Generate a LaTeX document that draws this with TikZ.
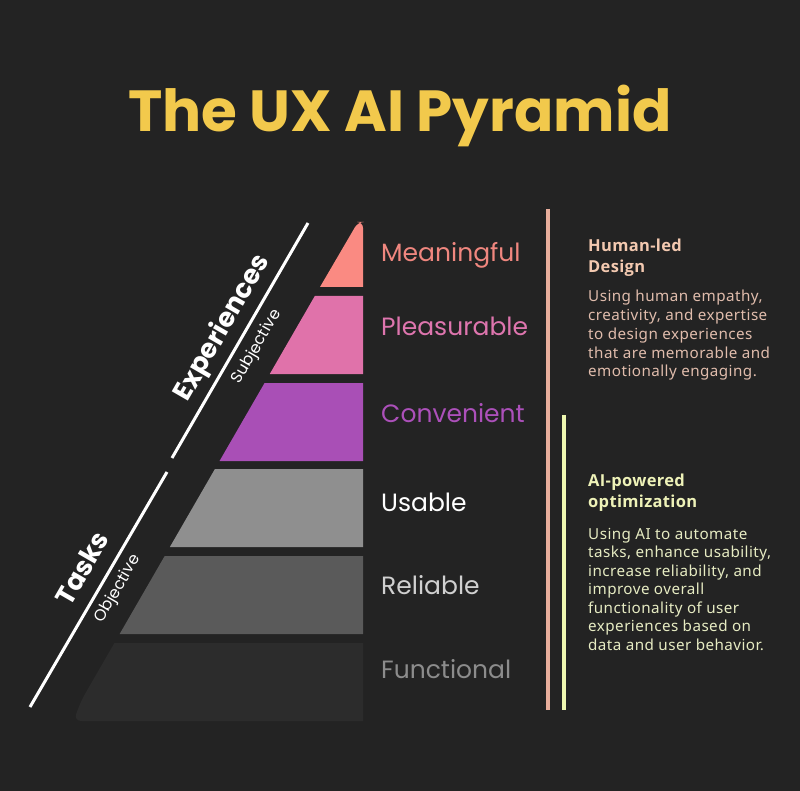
\documentclass[tikz,border=0pt]{standalone}
\usepackage{fontspec}
\setmainfont{Poppins}
\newfontfamily\bodyfont[LetterSpace=3]{Noto Sans}
\newfontfamily\headfont[LetterSpace=2]{Open Sans}
\usepackage{xcolor}
\usetikzlibrary{positioning, calc}

\definecolor{bgdark}{HTML}{232323}
\definecolor{titleyellow}{HTML}{F2C94C}
\definecolor{tierA}{HTML}{FA8A82}
\definecolor{tierB}{HTML}{E072AA}
\definecolor{tierC}{HTML}{A94FB6}
\definecolor{tierD}{HTML}{8F8F8F}
\definecolor{tierE}{HTML}{5A5A5A}
\definecolor{tierF}{HTML}{2C2C2C}
\definecolor{labA}{HTML}{F0877F}
\definecolor{labB}{HTML}{DE75AE}
\definecolor{labC}{HTML}{AC50BA}
\definecolor{labD}{HTML}{FFFFFF}
\definecolor{labE}{HTML}{D0D0D0}
\definecolor{labF}{HTML}{8C8C8C}
\definecolor{peach}{HTML}{E8AE9C}
\definecolor{peachhead}{HTML}{F3C9B0}
\definecolor{peachtext}{HTML}{E0BCAC}
\definecolor{lime}{HTML}{EEF7B0}
\definecolor{limehead}{HTML}{EEF2B8}
\definecolor{limetext}{HTML}{E6EBC2}

\tikzset{
  tierlabel/.style={anchor=base west, inner sep=0pt, font=\fontsize{25}{25}\selectfont},
  sidehead/.style={anchor=base west, inner sep=0pt,
    font=\headfont\fontsize{16.5}{21}\selectfont\bfseries},
  sidetext/.style={anchor=base west, inner sep=0pt,
    font=\bodyfont\fontsize{15.2}{18.6}\selectfont},
  axisline/.style={white, line width=3pt},
  barline/.style={line width=3.5pt},
  axismain/.style={white, rotate=60, inner sep=0pt, font=\bfseries\fontsize{26.5}{26.5}\selectfont},
  axissub/.style={white, rotate=60, inner sep=0pt, font=\fontsize{16}{16}\selectfont}
}

\begin{document}
\begin{tikzpicture}[x=1pt, y=-1pt]
  % Background
  \fill[bgdark] (0,0) rectangle (800,791);
  \useasboundingbox (0,0) rectangle (800,791);

  % Title
  \node[titleyellow, anchor=base, inner sep=0pt, font=\bfseries\fontsize{58}{58}\selectfont]
    (title) at (400,132) {The UX AI Pyramid};

  % Pyramid tiers (left edge at 60 degrees)
  \fill[tierA] (320,287) [rounded corners=6pt]-- (358,222) -- (363,222) [sharp corners]-- (363,287) -- cycle;
  \foreach \top/\bot/\col in {296/374/tierB, 383/461/tierC, 469/547/tierD, 556/634/tierE} {
    \fill[\col] ({320-0.5774*(\top-287)},\top) -- (363,\top) -- (363,\bot)
      -- ({320-0.5774*(\bot-287)},\bot) -- cycle;
  }
  \fill[tierF] ({320-0.5774*(643-287)},643) -- (363,643) -- (363,721)
    [rounded corners=8pt]-- ({320-0.5774*(721-287)+4},721) -- ({320-0.5774*(700-287)},700) [sharp corners]-- cycle;

  % Tier labels
  \node[tierlabel, labA] (meaningful) at (381,262) {Meaningful};
  \node[tierlabel, labB] (pleasurable) at (381,335) {Pleasurable};
  \node[tierlabel, labC] (convenient) at (381,422) {Convenient};
  \node[tierlabel, labD] (usable) at (381,511) {Usable};
  \node[tierlabel, labE] (reliable) at (381,594) {Reliable};
  \node[tierlabel, labF] (functional) at (381,678) {Functional};

  % Side axes
  \coordinate (expTop) at (308,223);
  \coordinate (expBot) at (172,458);
  \coordinate (taskTop) at (167,472);
  \coordinate (taskBot) at (30,707);
  \draw[axisline] (expBot) -- (expTop);
  \draw[axisline] (taskBot) -- (taskTop);
  \node[axismain] (experiences) at (223,328) {Experiences};
  \node[axissub] (subjective) at (257,347) {Subjective};
  \node[axismain] (tasks) at (82,568) {Tasks};
  \node[axissub] (objective) at (118,589) {Objective};

  % Vertical bars
  \coordinate (humanTop) at (548,209);
  \coordinate (humanBot) at (548,710);
  \coordinate (aiTop) at (564,415);
  \coordinate (aiBot) at (564,710);
  \draw[barline, peach] (humanTop) -- (humanBot);
  \draw[barline, lime] (aiTop) -- (aiBot);

  % Human-led block
  \node[sidehead, peachhead] (humanhead1) at (588,252) {Human-led};
  \node[sidehead, peachhead] (humanhead2) at (588,273) {Design};
  \foreach \line [count=\i] in {{Using human empathy,}, {creativity, and expertise},
      {to design experiences}, {that are memorable and}, {emotionally engaging.}} {
    \node[sidetext, peachtext] (humantext\i) at (588,{302+18.7*(\i-1)}) {\line};
  }

  % AI-powered block
  \node[sidehead, limehead] (aihead1) at (588,486) {AI-powered};
  \node[sidehead, limehead] (aihead2) at (588,507) {optimization};
  \foreach \line [count=\i] in {{Using AI to automate}, {tasks, enhance usability,},
      {increase reliability, and}, {improve overall}, {functionality of user},
      {experiences based on}, {data and user behavior.}} {
    \node[sidetext, limetext] (aitext\i) at (588,{539+18.5*(\i-1)}) {\line};
  }
\end{tikzpicture}
\end{document}
